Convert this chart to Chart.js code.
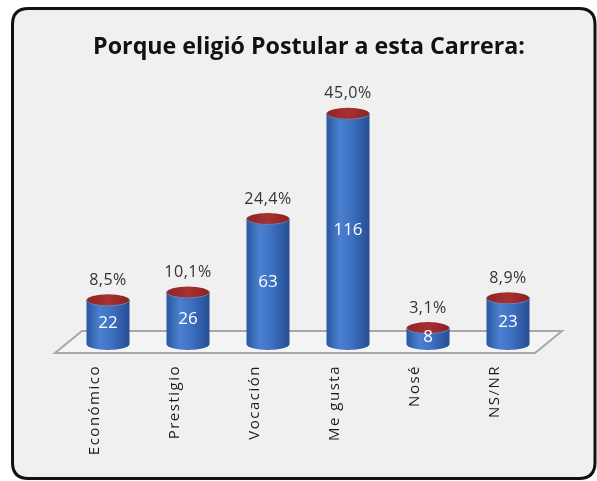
<!DOCTYPE html>
<html><head><meta charset="utf-8">
<script src="https://cdn.jsdelivr.net/npm/chart.js@4"></script>
<style>html,body{margin:0;padding:0;background:#fff;} canvas{display:block}</style>
</head><body>
<canvas id="c" width="597" height="481"></canvas>
<script>
const titleText = "Porque eligió Postular a esta Carrera:";
const categories = ["Económico", "Prestigio", "Vocación", "Me gusta", "Nosé", "NS/NR"];
const counts = [22, 26, 63, 116, 8, 23];
const percents = ["8,5%", "10,1%", "24,4%", "45,0%", "3,1%", "8,9%"];

const DX = 13, DY = 9, FLOOR_DX = 27, FLOOR_DY = 22;

function roundRect(ctx, x, y, w, h, r) {
  ctx.beginPath();
  ctx.moveTo(x + r, y);
  ctx.lineTo(x + w - r, y);
  ctx.quadraticCurveTo(x + w, y, x + w, y + r);
  ctx.lineTo(x + w, y + h - r);
  ctx.quadraticCurveTo(x + w, y + h, x + w - r, y + h);
  ctx.lineTo(x + r, y + h);
  ctx.quadraticCurveTo(x, y + h, x, y + h - r);
  ctx.lineTo(x, y + r);
  ctx.quadraticCurveTo(x, y, x + r, y);
  ctx.closePath();
}

const decor = {
  id: 'decor',
  beforeDraw(chart) {
    const ctx = chart.ctx, a = chart.chartArea;
    ctx.save();
    ctx.fillStyle = '#ffffff';
    ctx.fillRect(0, 0, chart.width, chart.height);
    roundRect(ctx, 12.5, 8.5, 582.5, 470, 16);
    ctx.fillStyle = '#f0f0f0';
    ctx.fill();
    ctx.lineWidth = 3;
    ctx.strokeStyle = '#111';
    ctx.stroke();
    // title
    let size = 24;
    ctx.font = `bold ${size}px "Open Sans"`;
    const target = 432;
    size = size * target / ctx.measureText(titleText).width;
    ctx.font = `bold ${size}px "Open Sans"`;
    ctx.fillStyle = '#111';
    ctx.textAlign = 'center';
    ctx.textBaseline = 'alphabetic';
    ctx.fillText(titleText, 309, 54);
    // floor
    ctx.beginPath();
    ctx.moveTo(a.left, a.bottom);
    ctx.lineTo(a.right, a.bottom);
    ctx.lineTo(a.right + FLOOR_DX, a.bottom - FLOOR_DY);
    ctx.lineTo(a.left + FLOOR_DX, a.bottom - FLOOR_DY);
    ctx.closePath();
    ctx.fillStyle = '#f4f4f4';
    ctx.fill();
    ctx.lineWidth = 2;
    ctx.strokeStyle = '#a8a8a8';
    ctx.stroke();
    ctx.restore();
    // spacing for the category tick labels drawn next
    ctx.letterSpacing = '1.5px';
  },
  beforeDatasetsDraw(chart) {
    chart.ctx.letterSpacing = '0px';
  },
  afterDatasetsDraw(chart) {
    const ctx = chart.ctx;
    const meta = chart.getDatasetMeta(0);
    ctx.save();
    meta.data.forEach((bar, i) => {
      const cx = bar.x + DX;
      const rx = 21.5, ry = 6;
      const yTop = bar.y - DY, yBot = bar.base - DY;
      // body
      const g = ctx.createLinearGradient(cx - rx, 0, cx + rx, 0);
      g.addColorStop(0, '#2a579f');
      g.addColorStop(0.3, '#4a7fcf');
      g.addColorStop(0.55, '#3f73c4');
      g.addColorStop(1, '#264e94');
      ctx.beginPath();
      ctx.moveTo(cx - rx, yTop);
      ctx.lineTo(cx - rx, yBot);
      ctx.ellipse(cx, yBot, rx, ry, 0, Math.PI, 0, true);
      ctx.lineTo(cx + rx, yTop);
      ctx.closePath();
      ctx.fillStyle = g;
      ctx.fill();
      // top
      const gt = ctx.createLinearGradient(cx - rx, 0, cx + rx, 0);
      gt.addColorStop(0, '#8e2424');
      gt.addColorStop(0.5, '#a83030');
      gt.addColorStop(1, '#8a2222');
      ctx.beginPath();
      ctx.ellipse(cx, yTop, rx, ry, 0, 0, Math.PI * 2);
      ctx.fillStyle = gt;
      ctx.fill();
      ctx.lineWidth = 1;
      ctx.strokeStyle = '#5f86c8';
      ctx.beginPath();
      ctx.ellipse(cx, yTop, rx - 0.5, ry - 0.5, 0, 0, Math.PI);
      ctx.stroke();
      // labels
      ctx.textAlign = 'center';
      ctx.textBaseline = 'middle';
      ctx.letterSpacing = '0px';
      ctx.font = '17px "Open Sans"';
      ctx.fillStyle = '#ffffff';
      ctx.fillText(String(counts[i]), cx, (yTop + yBot) / 2 + 1);
      ctx.letterSpacing = '0.5px';
      ctx.font = '16px "Open Sans"';
      ctx.fillStyle = '#333333';
      ctx.fillText(percents[i], cx, yTop - 20);
    });
    ctx.restore();
  }
};

new Chart(document.getElementById('c'), {
  type: 'bar',
  data: {
    labels: categories,
    datasets: [{ data: counts, backgroundColor: 'rgba(0,0,0,0)', borderWidth: 0 }]
  },
  options: {
    responsive: false,
    animation: false,
    events: [],
    layout: { padding: { left: 55, right: 62, top: 95, bottom: 0 } },
    plugins: { legend: { display: false }, tooltip: { enabled: false }, title: { display: false } },
    scales: {
      x: {
        grid: { display: false, drawTicks: false },
        border: { display: false },
        ticks: {
          autoSkip: false, minRotation: 90, maxRotation: 90, padding: 12,
          color: '#1a1a1a', font: { family: 'Open Sans', size: 15 }
        },
        afterFit(s) { s.height = 128; }
      },
      y: { display: false, min: 0, max: 130 }
    }
  },
  plugins: [decor]
});
</script>
</body></html>
